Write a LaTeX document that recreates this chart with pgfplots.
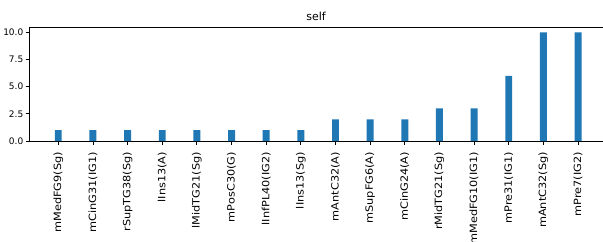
\documentclass[border=0pt]{standalone}
\usepackage{fontspec}
\setmainfont{DejaVu Sans}
\newfontfamily\xlabfont[FakeStretch=1.13]{DejaVu Sans}
\usepackage{pgfplots}
\pgfplotsset{compat=1.18}
\definecolor{mplblue}{HTML}{1F77B4}
\begin{document}
\begin{tikzpicture}[x=1bp,y=1bp]
\useasboundingbox (0,0) rectangle (603,241);
\begin{axis}[
  at={(29.3bp,100bp)}, anchor=south west,
  scale only axis, width=573.7bp, height=114bp,
  xmin=-0.836, xmax=15.72, ymin=0, ymax=10.5,
  axis x line*=bottom, axis y line*=left,
  axis line style={line width=0.8bp, black, -},
  title={self}, title style={font=\fontsize{11bp}{13bp}\selectfont, yshift=-3bp},
  xtick={0,...,15},
  xticklabels={mMedFG9(Sg),mCinG31(IG1),rSupTG38(Sg),lIns13(A),lMidTG21(Sg),mPosC30(G),lInfPL40(IG2),lIns13(Sg),mAntC32(A),mSupFG6(A),mCinG24(A),rMidTG21(Sg),mMedFG10(IG1),mPre31(IG1),mAntC32(Sg),mPre7(IG2)},
  x tick label style={rotate=90, anchor=east, font=\xlabfont\fontsize{10bp}{12bp}\selectfont, inner sep=0pt, outer sep=7.5bp},
  ytick={0,2.5,5,7.5,10},
  yticklabel style={font=\fontsize{9bp}{11bp}\selectfont, inner sep=0pt, outer sep=2.5bp, /pgf/number format/fixed, /pgf/number format/fixed zerofill, /pgf/number format/precision=1},
  /pgf/number format/assume math mode=true,
  tick align=outside, major tick length=3.5bp,
  tick style={line width=0.8bp, black},
  clip=false,
]
\addplot[ybar, bar width=0.2, fill=mplblue, draw=none] coordinates {
(0,1) (1,1) (2,1) (3,1) (4,1) (5,1) (6,1) (7,1) (8,2) (9,2) (10,2) (11,3) (12,3) (13,6) (14,10) (15,10)};
\draw[line width=0.8bp, black] (rel axis cs:0,1) -- (rel axis cs:1,1);
\end{axis}
\end{tikzpicture}
\end{document}
